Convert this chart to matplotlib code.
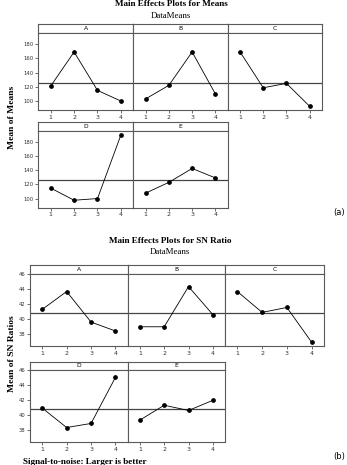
import numpy as np
import matplotlib
matplotlib.use("Agg")
import matplotlib.pyplot as plt

# factor levels and values
factors = ["A", "B", "C", "D", "E"]
levels = [1, 2, 3, 4]

mean_A = [121.0, 168.8, 114.9, 100.0]
mean_B = [103.0, 122.0, 168.8, 110.0]
mean_C = [169.0, 118.6, 124.7, 92.5]
mean_D = [114.7, 97.6, 100.0, 189.4]
mean_E = [107.6, 122.8, 142.3, 129.0]

sn_A = [41.3, 43.7, 39.6, 38.4]
sn_B = [38.97, 38.97, 44.36, 40.6]
sn_C = [43.7, 40.9, 41.56, 36.9]
sn_D = [40.92, 38.3, 38.85, 45.07]
sn_E = [39.3, 41.3, 40.6, 41.96]

mean_ticks = [100, 120, 140, 160, 180]
sn_ticks = [38, 40, 42, 44, 46]

W, H = 347, 465
SERIF = "Liberation Serif"
SANS = "DejaVu Sans"
EDGE = "#5a5a5a"

fig = plt.figure(figsize=(W / 100, H / 100), dpi=100)


def rect(x0, y0, x1, y1):
    """pixel box (top-left origin) -> figure fraction rect"""
    return [x0 / W, 1 - y1 / H, (x1 - x0) / W, (y1 - y0) / H]


def draw_group(data, xb, rows, ylim, yticks, xlim, grand):
    axes = []
    for i, (name, vals) in enumerate(zip(factors, data)):
        r, c = divmod(i, 3)
        strip_top, plot_top, plot_bot = rows[r]
        x0, x1 = xb[c], xb[c + 1]

        # strip with factor name
        st = fig.add_axes(rect(x0, strip_top, x1, plot_top))
        st.set_xticks([])
        st.set_yticks([])
        for s in st.spines.values():
            s.set_color(EDGE)
            s.set_linewidth(0.8)
        st.text(0.5, 0.5, name, ha="center", va="center", fontsize=4.3,
                family=SANS, transform=st.transAxes)

        ax = fig.add_axes(rect(x0, plot_top, x1, plot_bot))
        ax.axhline(grand, color="#444444", lw=0.9, zorder=1)
        ax.plot(levels, vals, "-o", color="black", lw=0.6, ms=2.4, zorder=3)
        ax.set_xlim(*xlim)
        ax.set_ylim(*ylim)
        ax.set_xticks(levels)
        ax.set_xticklabels([str(l) for l in levels], fontsize=4.5, family=SANS)
        ax.set_yticks(yticks)
        if c == 0:
            ax.set_yticklabels([str(t) for t in yticks], fontsize=3.8,
                               family=SANS)
        else:
            ax.tick_params(axis="y", left=False, labelleft=False)
        ax.tick_params(length=2, width=0.5, pad=1.5, colors="#333333")
        for s in ax.spines.values():
            s.set_color(EDGE)
            s.set_linewidth(0.8)
        axes.append(ax)
    return axes


# ---- (a) means ----
mean_data = [mean_A, mean_B, mean_C, mean_D, mean_E]
mean_grand = np.mean([np.mean(v) for v in mean_data])
draw_group(mean_data, [38.3, 133.3, 227.7, 322.0],
           [(24.3, 33.3, 110.0), (122.3, 131.0, 207.5)],
           (87.4, 195.0), mean_ticks, (0.47, 4.53), mean_grand)

fig.text(171 / W, 1 - 4.5 / H, "Main Effects Plots for Means", ha="center",
         va="center", fontsize=6.6, fontweight="bold", family=SERIF)
fig.text(171 / W, 1 - 15.5 / H, "DataMeans", ha="center", va="center",
         fontsize=6.4, family=SERIF)
fig.text(12 / W, 1 - 117 / H, "Mean of Means", ha="center", va="center",
         rotation=90, fontsize=6.8, fontweight="bold", family=SERIF)
fig.text(339 / W, 1 - 213 / H, "(a)", ha="center", va="center",
         fontsize=6.0, family=SANS)

# ---- (b) SN ratios ----
sn_data = [sn_A, sn_B, sn_C, sn_D, sn_E]
sn_grand = np.mean([np.mean(v) for v in sn_data])
draw_group(sn_data, [30.0, 127.7, 225.0, 324.0],
           [(265.0, 274.0, 346.3), (361.7, 370.0, 442.0)],
           (36.35, 46.05), sn_ticks, (0.5, 4.5), sn_grand)

fig.text(170 / W, 1 - 241.3 / H, "Main Effects Plots for SN Ratio",
         ha="center", va="center", fontsize=6.6, fontweight="bold",
         family=SERIF)
fig.text(170 / W, 1 - 252.3 / H, "DataMeans", ha="center", va="center",
         fontsize=6.4, family=SERIF)
fig.text(12 / W, 1 - 354 / H, "Mean of SN Ratios", ha="center", va="center",
         rotation=90, fontsize=6.8, fontweight="bold", family=SERIF)
fig.text(23 / W, 1 - 461.5 / H, "Signal-to-noise: Larger is better",
         ha="left", va="center", fontsize=6.6, fontweight="bold",
         family=SERIF)
fig.text(339 / W, 1 - 456 / H, "(b)", ha="center", va="center",
         fontsize=6.0, family=SANS)

fig.savefig("out.png", dpi=100, facecolor="white")
